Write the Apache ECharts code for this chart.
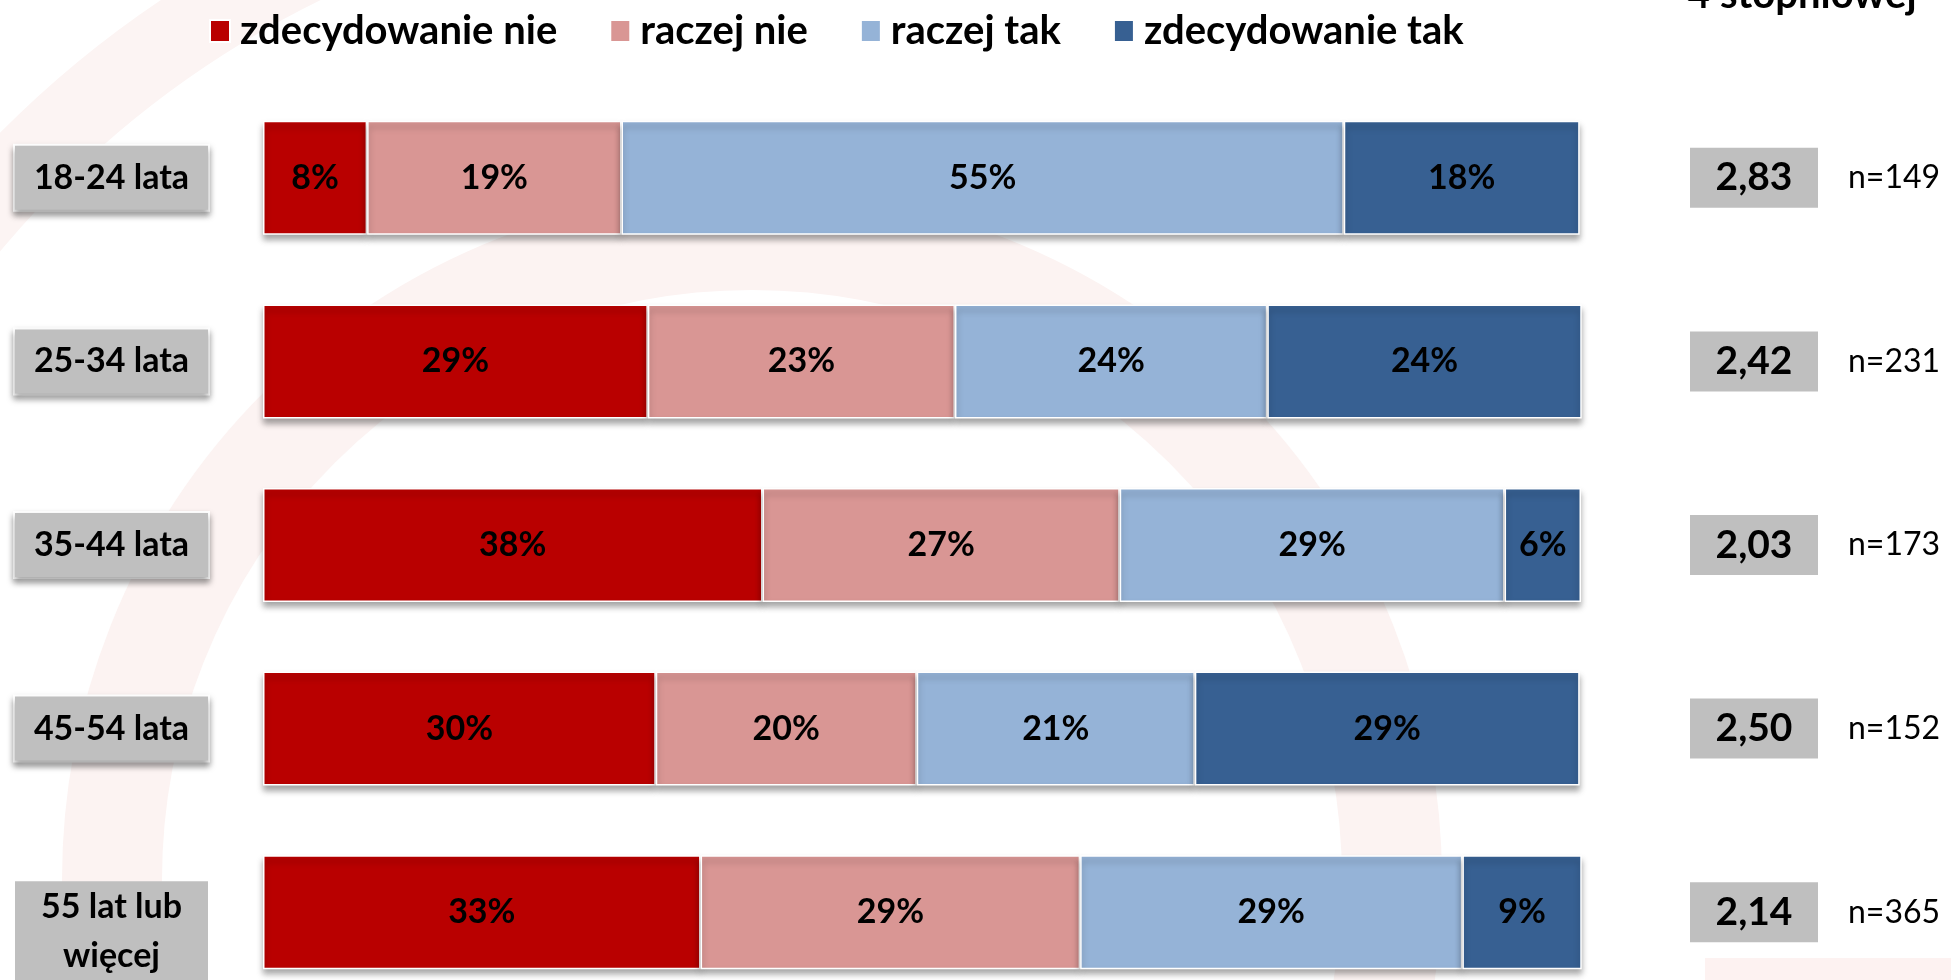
<!DOCTYPE html>
<html>
<head>
<meta charset="utf-8">
<script src="https://cdn.jsdelivr.net/npm/echarts@6/dist/echarts.min.js"></script>
<style>
  html, body { margin: 0; padding: 0; background: #fff; }
  #chart { width: 1951px; height: 980px; }
</style>
</head>
<body>
<div id="chart"></div>
<script>
  // dane z wykresu
  var ageGroups = ['18-24 lata', '25-34 lata', '35-44 lata', '45-54 lata', '55 lat lub\nwięcej']
  var seriesNames = ['zdecydowanie nie', 'raczej nie', 'raczej tak', 'zdecydowanie tak']
  var defNo = [7.9, 29.2, 37.9, 29.8, 33.2]
  var ratherNo = [19.3, 23.3, 27.1, 19.8, 28.8]
  var ratherYes = [54.8, 23.7, 29.2, 21.1, 29.0]
  var defYes = [17.9, 23.9, 5.8, 29.2, 9.1]
  var means = [2.83, 2.42, 2.03, 2.50, 2.14]
  var counts = [149, 231, 173, 152, 365]

  var colors = ['#B90000', '#D99694', '#95B3D7', '#376092']
  var font = 'Lato'

  var chart = echarts.init(document.getElementById('chart'))

  function barSeries(name, data, idx) {
    return {
      name: name,
      type: 'bar',
      stack: 'total',
      barWidth: 114,
      data: data,
      itemStyle: {
        color: colors[idx],
        borderColor: '#fff',
        borderWidth: 1.5,
        shadowColor: 'rgba(0,0,0,0.35)',
        shadowBlur: 6,
        shadowOffsetY: 5
      },
      label: {
        show: true,
        position: 'inside',
        color: '#000',
        fontFamily: font,
        fontWeight: 'bold',
        fontSize: 34,
        formatter: function (p) { return Math.round(p.value) + '%' }
      }
    }
  }

  var boxStyle = {
    width: 193, height: 64, lineHeight: 64, align: 'center',
    backgroundColor: '#BFBFBF', borderColor: '#fff', borderWidth: 2,
    shadowColor: 'rgba(0,0,0,0.35)', shadowBlur: 6, shadowOffsetY: 4,
    color: '#000', fontFamily: font, fontWeight: 'bold', fontSize: 34
  }
  var lineStyle2 = {
    width: 193, height: 51, lineHeight: 49, align: 'center',
    backgroundColor: '#BFBFBF',
    color: '#000', fontFamily: font, fontWeight: 'bold', fontSize: 34
  }

  chart.setOption({
    backgroundColor: '#fff',
    animation: false,
    graphic: [
      { type: 'arc', z: -10, silent: true, shape: { cx: 752, cy: 880, r: 640 },
        style: { stroke: '#FCF3F2', lineWidth: 100, fill: null } },
      { type: 'arc', z: -10, silent: true, shape: { cx: 752, cy: 880, r: 1020, startAngle: Math.PI, endAngle: Math.PI * 1.45 },
        style: { stroke: '#FCF4F3', lineWidth: 80, fill: null } },
      { type: 'rect', z: -10, silent: true, shape: { x: 1705, y: 958, width: 246, height: 22 },
        style: { fill: '#FDF2F1' } },
      { type: 'text', left: 1687, top: -25,
        style: { text: '4 stopniowej', fill: '#000', font: 'bold 40px ' + font } }
    ],
    legend: {
      left: 204,
      top: 6,
      icon: 'rect',
      itemWidth: 20,
      itemHeight: 22,
      itemGap: 52,
      data: seriesNames,
      textStyle: { fontFamily: font, fontWeight: 'bold', fontSize: 40, color: '#000', padding: [0, 0, 0, 5] }
    },
    grid: { left: 263, right: 370, top: 86, height: 918, outerBoundsMode: 'none', containLabel: false },
    xAxis: { type: 'value', min: 0, max: 100, show: false },
    yAxis: [
      {
        type: 'category',
        inverse: true,
        data: ageGroups,
        axisLine: { show: false },
        axisTick: { show: false },
        axisLabel: {
          interval: 0,
          margin: 55,
          formatter: function (v, i) {
            if (v.indexOf('\n') > -1) {
              var parts = v.split('\n')
              return '{e|X}\n{t|' + parts[0] + '}\n{t|' + parts[1] + '}'
            }
            return '{b|' + v + '}'
          },
          rich: {
            b: boxStyle,
            t: lineStyle2,
            e: { height: 38, lineHeight: 38, fontSize: 32, fontFamily: font, color: 'rgba(0,0,0,0)', backgroundColor: 'rgba(255,255,255,0.01)' }
          }
        }
      },
      {
        type: 'category',
        inverse: true,
        position: 'right',
        data: ageGroups,
        axisLine: { show: false },
        axisTick: { show: false },
        axisLabel: {
          interval: 0,
          margin: 109,
          align: 'left',
          formatter: function (v, i) {
            return '{m|' + means[i].toFixed(2).replace('.', ',') + '}{g|.}{n|n=' + counts[i] + '}'
          },
          rich: {
            m: {
              width: 128, height: 60, lineHeight: 60, align: 'center',
              backgroundColor: '#BFBFBF', color: '#000',
              fontFamily: font, fontWeight: 'bold', fontSize: 39
            },
            g: { width: 30, fontSize: 10, color: 'rgba(0,0,0,0)' },
            n: { color: '#000', fontFamily: font, fontSize: 32 }
          }
        }
      }
    ],
    series: [
      barSeries(seriesNames[0], defNo, 0),
      barSeries(seriesNames[1], ratherNo, 1),
      barSeries(seriesNames[2], ratherYes, 2),
      barSeries(seriesNames[3], defYes, 3)
    ]
  })
</script>
</body>
</html>
